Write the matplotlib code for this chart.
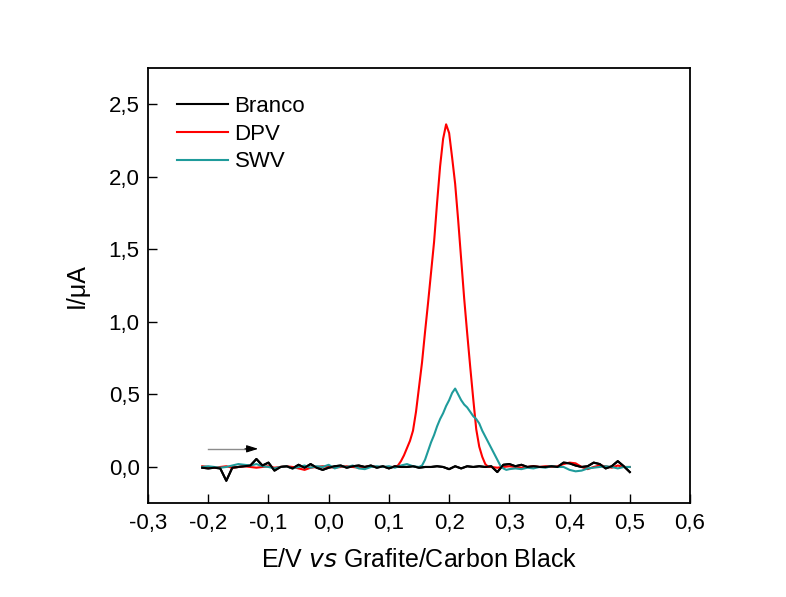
import matplotlib
matplotlib.use("Agg")
import matplotlib.pyplot as plt
from matplotlib.ticker import FuncFormatter, MultipleLocator

plt.rcParams['font.family'] = ['Liberation Sans', 'DejaVu Sans']

# ---- Branco (blank), 0.01 V steps ----
E_branco = [-0.21, -0.20, -0.19, -0.18, -0.17, -0.16, -0.15, -0.14, -0.13, -0.12,
            -0.11, -0.10, -0.09, -0.08, -0.07, -0.06, -0.05, -0.04, -0.03, -0.02,
            -0.01, 0.00, 0.01, 0.02, 0.03, 0.04, 0.05, 0.06, 0.07, 0.08,
            0.09, 0.10, 0.11, 0.12, 0.13, 0.14, 0.15, 0.16, 0.17, 0.18,
            0.19, 0.20, 0.21, 0.22, 0.23, 0.24, 0.25, 0.26, 0.27, 0.28,
            0.29, 0.30, 0.31, 0.32, 0.33, 0.34, 0.35, 0.36, 0.37, 0.38,
            0.39, 0.40, 0.41, 0.42, 0.43, 0.44, 0.45, 0.46, 0.47, 0.48,
            0.49, 0.50]
I_branco = [-0.005, -0.01, -0.005, -0.01, -0.095, -0.005, 0.00, 0.005, 0.01, 0.055,
            0.01, 0.03, -0.025, 0.00, 0.005, -0.01, 0.015, -0.005, 0.02, -0.005,
            -0.02, -0.005, 0.005, 0.01, -0.005, 0.005, 0.01, 0.00, 0.01, -0.005,
            0.005, -0.01, 0.005, 0.00, 0.00, 0.005, -0.005, 0.00, 0.00, 0.005,
            0.00, -0.015, 0.005, -0.01, 0.005, 0.00, 0.005, 0.00, 0.005, -0.035,
            0.015, 0.02, 0.005, 0.015, 0.00, 0.005, 0.00, 0.00, 0.005, 0.00,
            0.03, 0.025, 0.01, 0.00, 0.005, 0.03, 0.02, -0.01, 0.005, 0.04,
            0.005, -0.035]

# ---- DPV ----
E_dpv = [-0.21, -0.20, -0.19, -0.18, -0.17, -0.16, -0.15, -0.14, -0.13, -0.12,
         -0.11, -0.10, -0.09, -0.08, -0.07, -0.06, -0.05, -0.04, -0.03, -0.02,
         -0.01, 0.00, 0.01, 0.02, 0.03, 0.04, 0.05, 0.06, 0.07, 0.08,
         0.09, 0.10, 0.110, 0.115, 0.120, 0.125, 0.130, 0.135, 0.140, 0.145,
         0.150, 0.155, 0.160, 0.165, 0.170, 0.175, 0.180, 0.185, 0.190, 0.195,
         0.200, 0.205, 0.210, 0.215, 0.220, 0.225, 0.230, 0.235, 0.240, 0.245,
         0.250, 0.255, 0.260, 0.265, 0.27, 0.28, 0.29, 0.30, 0.31, 0.32,
         0.33, 0.34, 0.35, 0.36, 0.37, 0.38, 0.39, 0.40, 0.41, 0.42,
         0.43, 0.44, 0.45, 0.46, 0.47, 0.48, 0.49, 0.50]
I_dpv = [0.005, 0.00, -0.005, 0.00, 0.005, -0.005, 0.00, 0.005, 0.00, -0.005,
         0.00, 0.005, -0.005, 0.00, 0.005, 0.00, -0.01, -0.02, -0.005, 0.00,
         0.005, 0.00, -0.005, 0.00, 0.005, 0.00, -0.005, 0.00, 0.005, 0.00,
         0.00, 0.00, 0.00, 0.01, 0.04, 0.08, 0.13, 0.18, 0.25, 0.38,
         0.55, 0.72, 0.93, 1.13, 1.34, 1.55, 1.82, 2.07, 2.26, 2.36,
         2.30, 2.13, 1.95, 1.70, 1.43, 1.16, 0.92, 0.69, 0.47, 0.26,
         0.14, 0.07, 0.02, 0.00, 0.00, -0.005, 0.00, 0.005, 0.00, -0.005,
         0.00, 0.005, 0.00, 0.005, 0.00, 0.005, 0.02, 0.03, 0.025, 0.00,
         -0.015, 0.00, 0.01, 0.005, -0.005, 0.01, 0.00, 0.00]

# ---- SWV ----
E_swv = [-0.21, -0.20, -0.19, -0.18, -0.17, -0.16, -0.15, -0.14, -0.13, -0.12,
         -0.11, -0.10, -0.09, -0.08, -0.07, -0.06, -0.05, -0.04, -0.03, -0.02,
         -0.01, 0.00, 0.01, 0.02, 0.03, 0.04, 0.05, 0.06, 0.07, 0.08,
         0.09, 0.10, 0.11, 0.12, 0.13, 0.14, 0.150, 0.155, 0.160, 0.165,
         0.170, 0.175, 0.180, 0.185, 0.190, 0.195, 0.200, 0.205, 0.210, 0.215,
         0.220, 0.225, 0.230, 0.235, 0.240, 0.245, 0.250, 0.255, 0.260, 0.265,
         0.270, 0.275, 0.280, 0.285, 0.290, 0.295, 0.30, 0.31, 0.32, 0.33,
         0.34, 0.35, 0.36, 0.37, 0.38, 0.39, 0.40, 0.41, 0.42, 0.43,
         0.44, 0.45, 0.46, 0.47, 0.48, 0.49, 0.50]
I_swv = [0.00, 0.005, 0.00, -0.005, 0.00, 0.01, 0.02, 0.015, 0.01, 0.02,
         0.005, 0.00, -0.01, 0.00, 0.005, -0.01, 0.00, 0.01, -0.005, 0.005,
         0.00, 0.015, -0.01, 0.005, 0.00, 0.01, -0.01, -0.015, 0.00, 0.005,
         0.00, 0.005, -0.005, 0.01, 0.02, 0.005, 0.00, 0.01, 0.05, 0.11,
         0.17, 0.22, 0.28, 0.33, 0.37, 0.42, 0.46, 0.51, 0.54, 0.50,
         0.46, 0.43, 0.41, 0.38, 0.35, 0.33, 0.30, 0.25, 0.21, 0.17,
         0.13, 0.09, 0.05, 0.01, -0.01, -0.02, -0.015, -0.01, -0.015, -0.005,
         -0.01, 0.00, -0.005, 0.005, 0.00, 0.00, -0.02, -0.03, -0.025, -0.01,
         -0.005, 0.00, 0.005, 0.00, -0.01, 0.00, 0.00]

series_labels = ["Branco", "DPV", "SWV"]
series_colors = ["#000000", "#ff0000", "#1f9b9b"]

x_ticks_step = 0.1
y_ticks_step = 0.5

# scan-direction arrow (start, end, level)
arrow_start, arrow_end, arrow_level = -0.20, -0.117, 0.125

fig = plt.figure(figsize=(7.86, 5.97), dpi=100)
ax = fig.add_axes([0.1883, 0.1570, 0.6896, 0.7296])

for E, I, lab, col in zip([E_branco, E_dpv, E_swv],
                          [I_branco, I_dpv, I_swv],
                          series_labels, series_colors):
    ax.plot(E, I, color=col, lw=1.5, label=lab)

# redraw blank on top so it sits over the baseline of the others
ax.plot(E_branco, I_branco, color=series_colors[0], lw=1.5, zorder=3)

# arrow: grey shaft with black head
ax.plot([arrow_start, arrow_end - 0.02], [arrow_level, arrow_level],
        color="#8c8c8c", lw=1.0)
ax.annotate("", xy=(arrow_end, arrow_level), xytext=(arrow_end - 0.022, arrow_level),
            arrowprops=dict(arrowstyle="-|>,head_length=0.7,head_width=0.22",
                            color="black", lw=0.8, shrinkA=0, shrinkB=0))

ax.set_xlim(-0.3, 0.6)
ax.set_ylim(-0.25, 2.75)
ax.xaxis.set_major_locator(MultipleLocator(x_ticks_step))
ax.yaxis.set_major_locator(MultipleLocator(y_ticks_step))

comma = FuncFormatter(lambda v, p: f"{v:.1f}".replace(".", ",").replace("\u2212", "-"))
ax.xaxis.set_major_formatter(comma)
ax.yaxis.set_major_formatter(comma)

ax.tick_params(direction="in", length=6.5, width=1.0, labelsize=16,
               top=False, right=False)
ax.tick_params(axis="x", pad=7)
ax.tick_params(axis="y", pad=6)
for s in ax.spines.values():
    s.set_linewidth(1.3)

ax.set_xlabel("E/V $\\it{vs}$ Grafite/Carbon Black", fontsize=18, labelpad=10)
ax.set_ylabel("I/\u03bcA", fontsize=18, labelpad=14)

leg = ax.legend(loc="upper left", bbox_to_anchor=(0.053, 0.935), frameon=False,
                fontsize=16, handlelength=2.3, handletextpad=0.3,
                labelspacing=0.3, borderpad=0, borderaxespad=0)

fig.savefig("out.png", dpi=100)
